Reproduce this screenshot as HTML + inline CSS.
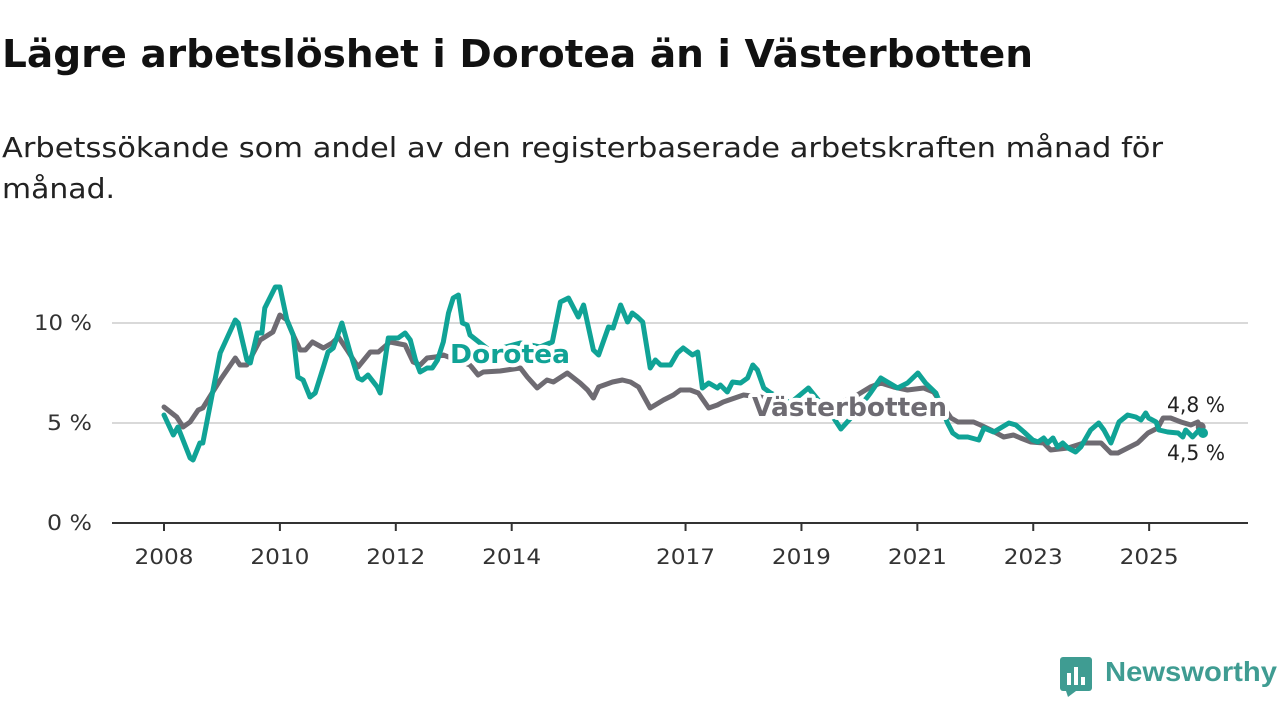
<!DOCTYPE html>
<html><head><meta charset="utf-8"><style>
body{margin:0;width:1280px;height:720px;background:#fff;font-family:"DejaVu Sans","Liberation Sans",sans-serif;overflow:hidden;position:relative}
svg{position:absolute;left:0;top:0}
.logo{position:absolute;left:1060px;top:655px}
</style></head><body>
<svg width="1280" height="240">
<text x="2" y="67" font-size="38" font-weight="bold" fill="#111" textLength="1031" lengthAdjust="spacingAndGlyphs">Lägre arbetslöshet i Dorotea än i Västerbotten</text>
<text x="2" y="157" font-size="28" fill="#222" textLength="1161" lengthAdjust="spacingAndGlyphs">Arbetssökande som andel av den registerbaserade arbetskraften månad för</text>
<text x="2" y="198" font-size="28" fill="#222" textLength="113" lengthAdjust="spacingAndGlyphs">månad.</text>
</svg>
<svg id="chart" width="1280" height="720"></svg>
<div class="logo">
<svg width="220" height="45" style="position:static"><rect x="0" y="2" width="32" height="34" rx="3" fill="#3f9c92"/><polygon points="6,36 16,36 8,42" fill="#3f9c92"/><rect x="7" y="18" width="4" height="12" fill="#fff"/><rect x="14" y="12" width="4" height="18" fill="#fff"/><rect x="21" y="22" width="4" height="8" fill="#fff"/><text x="45" y="26" font-size="28" font-weight="bold" fill="#3f9c92" textLength="172" lengthAdjust="spacingAndGlyphs" font-family="Liberation Sans, sans-serif">Newsworthy</text></svg>
</div>
<script>
const yTicks=[0,5,10];
const yTickLabels=["0 %","5 %","10 %"];
const xTicks=[2008,2010,2012,2014,2017,2019,2021,2023,2025];
const doroteaT=[0,0.16,0.24,0.45,0.50,0.62,0.67,0.97,1.23,1.28,1.43,1.49,1.61,1.69,1.74,1.92,2.00,2.12,2.23,2.31,2.40,2.52,2.61,2.75,2.83,2.92,3.07,3.21,3.35,3.42,3.52,3.68,3.73,3.87,4.04,4.16,4.25,4.34,4.42,4.54,4.63,4.72,4.82,4.91,4.99,5.08,5.15,5.23,5.28,5.63,6.15,6.49,6.70,6.84,6.98,7.15,7.24,7.41,7.50,7.67,7.75,7.88,8.00,8.08,8.17,8.26,8.39,8.48,8.57,8.74,8.86,8.96,9.12,9.21,9.29,9.40,9.55,9.60,9.72,9.81,9.95,10.07,10.16,10.24,10.35,10.47,10.81,11.12,11.33,11.50,11.68,11.93,12.19,12.37,12.66,12.83,13.01,13.14,13.32,13.52,13.61,13.71,13.87,14.06,14.15,14.32,14.58,14.70,14.84,14.99,15.08,15.18,15.25,15.34,15.42,15.51,15.60,15.73,15.82,15.99,16.13,16.22,16.34,16.48,16.63,16.77,16.86,16.94,16.99,17.12,17.17,17.32,17.50,17.58,17.63,17.75,17.86,17.93];
const doroteaV=[5.4,4.4,4.8,3.25,3.15,4.0,4.0,8.5,10.15,10.0,8.15,8.0,9.5,9.5,10.75,11.8,11.8,10.15,9.4,7.3,7.15,6.3,6.5,7.8,8.55,8.75,10.0,8.55,7.25,7.15,7.4,6.8,6.5,9.25,9.25,9.5,9.15,8.15,7.55,7.75,7.75,8.15,9.05,10.5,11.25,11.4,10.0,9.9,9.4,8.6,9.0,8.8,9.05,11.05,11.25,10.3,10.9,8.65,8.4,9.8,9.75,10.9,10.05,10.5,10.3,10.05,7.75,8.15,7.9,7.9,8.5,8.75,8.4,8.55,6.75,7.0,6.75,6.9,6.55,7.05,7.0,7.25,7.9,7.65,6.75,6.5,6.0,6.75,6.0,5.5,4.7,5.5,6.5,7.25,6.75,7.0,7.5,7.0,6.5,5.0,4.5,4.3,4.3,4.15,4.75,4.55,5.0,4.9,4.55,4.15,4.05,4.25,4.0,4.25,3.8,4.0,3.75,3.55,3.8,4.65,5.0,4.65,4.0,5.05,5.4,5.3,5.15,5.5,5.25,5.05,4.65,4.55,4.5,4.3,4.65,4.3,4.65,4.5];
const vbT=[0,0.22,0.33,0.45,0.59,0.67,0.97,1.23,1.31,1.43,1.66,1.88,2.00,2.12,2.23,2.35,2.44,2.56,2.75,2.90,3.01,3.16,3.35,3.56,3.70,3.90,4.16,4.30,4.42,4.54,4.68,4.82,5.28,5.42,5.51,5.80,6.15,6.27,6.44,6.61,6.72,6.96,7.18,7.31,7.41,7.50,7.74,7.91,8.05,8.19,8.39,8.62,8.79,8.91,9.08,9.22,9.40,9.55,9.65,10.00,10.29,10.81,11.33,11.85,12.19,12.37,12.59,12.83,13.11,13.28,13.58,13.70,13.97,14.09,14.27,14.49,14.66,14.78,14.96,15.18,15.30,15.60,15.87,16.17,16.34,16.46,16.63,16.80,16.98,17.15,17.24,17.37,17.55,17.72,17.84,17.89];
const vbV=[5.8,5.3,4.8,5.05,5.65,5.75,7.15,8.25,7.9,7.9,9.15,9.55,10.4,10.15,9.4,8.65,8.65,9.05,8.75,9.0,9.3,8.65,7.8,8.55,8.55,9.05,8.9,8.05,7.9,8.25,8.3,8.4,7.9,7.4,7.55,7.6,7.75,7.3,6.75,7.15,7.05,7.5,7.0,6.65,6.25,6.8,7.05,7.15,7.05,6.8,5.75,6.15,6.4,6.65,6.65,6.5,5.75,5.9,6.05,6.4,6.3,6.0,5.8,6.2,6.8,7.0,6.8,6.65,6.75,6.55,5.25,5.05,5.05,4.9,4.65,4.3,4.4,4.25,4.05,4.0,3.65,3.75,4.0,4.0,3.5,3.5,3.75,4.0,4.5,4.75,5.25,5.25,5.05,4.9,5.05,4.8];
const NS="http://www.w3.org/2000/svg";
const svg=document.getElementById('chart');
const X=y=>164+(y-2008)*57.95;
const Y=v=>523-v*20;
function mk(tag,attrs){const e=document.createElementNS(NS,tag);for(const k in attrs)e.setAttribute(k,attrs[k]);svg.appendChild(e);return e;}
yTicks.forEach((t,i)=>{
  const g=mk('line',{x1:112,x2:1248,y1:Y(t),y2:Y(t),stroke:t===0?'#333':'#d9d9d9','stroke-width':2});
  
  
  const txt=yTickLabels[i];
  const l=mk('text',{x:92,y:Y(t)+7,'text-anchor':'end','font-size':21,fill:'#333',textLength:txt.length>3?58:45,lengthAdjust:'spacingAndGlyphs'});
  l.textContent=txt;
  
  
});
xTicks.forEach(t=>{
  const k=mk('line',{x1:X(t),x2:X(t),y1:523,y2:531,stroke:'#333','stroke-width':2});
  
  
  const l=mk('text',{x:X(t),y:564,'text-anchor':'middle','font-size':21,fill:'#333',textLength:59,lengthAdjust:'spacingAndGlyphs'});
  l.textContent=t;
  
  
});
function path(ts,vs,color,name){
  const d=ts.map((t,i)=>(i?'L':'M')+X(2008+t).toFixed(1)+','+Y(vs[i]).toFixed(1)).join('');
  const p=mk('path',{d:d,fill:'none',stroke:color,'stroke-width':5,'stroke-linejoin':'round','stroke-linecap':'round'});
  
  
  const n=ts.length-1;
  const c=mk('circle',{cx:X(2008+ts[n]),cy:Y(vs[n]),r:5,fill:color});
  
  
}
path(vbT,vbV,'#6e6b72','vasterbotten-line');
path(doroteaT,doroteaV,'#10a396','dorotea-line');
function lbl(x,y,txt,color,name,size,bold,w){
  const t=mk('text',{x:x,y:y,'font-size':size,'font-weight':bold?'bold':'normal',fill:color,stroke:'#fff','stroke-width':bold?8:6,'paint-order':'stroke','stroke-linejoin':'round',textLength:w,lengthAdjust:'spacingAndGlyphs'});
  t.textContent=txt;
  
  
}
lbl(450,363,'Dorotea','#10a396','dorotea-label',26,true,120);
lbl(752,416,'Västerbotten','#6e6b72','vasterbotten-label',26,true,195);
lbl(1167,412,'4,8 %','#222','vasterbotten-end-value',21,false,58);
lbl(1167,460,'4,5 %','#222','dorotea-end-value',21,false,58);
</script>
</body></html>
